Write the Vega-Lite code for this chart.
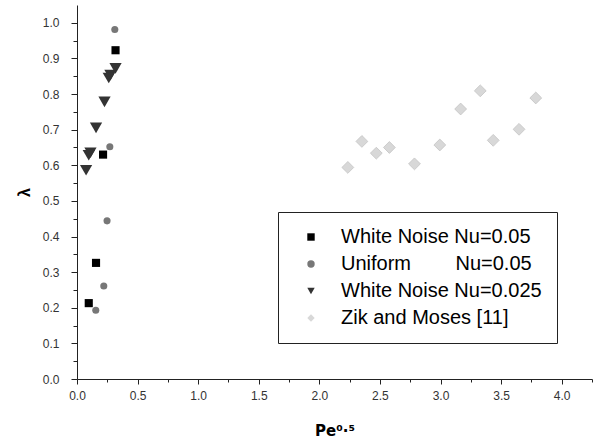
{
  "$schema": "https://vega.github.io/schema/vega-lite/v6.json",
  "autosize": "none",
  "width": 515,
  "height": 374,
  "padding": {"left": 77, "top": 5, "right": 6, "bottom": 68},
  "background": "white",
  "config": {
    "view": {"stroke": null},
    "font": "Liberation Sans",
    "axis": {"domainColor": "#222", "tickColor": "#222", "grid": false, "labelColor": "#333", "labelFontSize": 12, "labelFont": "Liberation Sans", "titleColor": "#000", "labelFlush": false, "labelOverlap": false}
  },
  "data": {"values": [
    {"series": "White Noise Nu=0.05", "x": 0.318, "y": 0.923},
    {"series": "White Noise Nu=0.05", "x": 0.215, "y": 0.630},
    {"series": "White Noise Nu=0.05", "x": 0.157, "y": 0.326},
    {"series": "White Noise Nu=0.05", "x": 0.097, "y": 0.213},
    {"series": "Uniform\u00a0\u00a0\u00a0\u00a0\u00a0\u00a0\u00a0\u00a0Nu=0.05", "x": 0.312, "y": 0.981},
    {"series": "Uniform\u00a0\u00a0\u00a0\u00a0\u00a0\u00a0\u00a0\u00a0Nu=0.05", "x": 0.271, "y": 0.652},
    {"series": "Uniform\u00a0\u00a0\u00a0\u00a0\u00a0\u00a0\u00a0\u00a0Nu=0.05", "x": 0.248, "y": 0.444},
    {"series": "Uniform\u00a0\u00a0\u00a0\u00a0\u00a0\u00a0\u00a0\u00a0Nu=0.05", "x": 0.221, "y": 0.261},
    {"series": "Uniform\u00a0\u00a0\u00a0\u00a0\u00a0\u00a0\u00a0\u00a0Nu=0.05", "x": 0.155, "y": 0.193},
    {"series": "White Noise Nu=0.025", "x": 0.318, "y": 0.872},
    {"series": "White Noise Nu=0.025", "x": 0.276, "y": 0.853},
    {"series": "White Noise Nu=0.025", "x": 0.262, "y": 0.845},
    {"series": "White Noise Nu=0.025", "x": 0.227, "y": 0.778},
    {"series": "White Noise Nu=0.025", "x": 0.157, "y": 0.705},
    {"series": "White Noise Nu=0.025", "x": 0.111, "y": 0.635},
    {"series": "White Noise Nu=0.025", "x": 0.097, "y": 0.628},
    {"series": "White Noise Nu=0.025", "x": 0.075, "y": 0.586},
    {"series": "Zik and Moses [11]", "x": 2.235, "y": 0.594},
    {"series": "Zik and Moses [11]", "x": 2.351, "y": 0.667},
    {"series": "Zik and Moses [11]", "x": 2.470, "y": 0.634},
    {"series": "Zik and Moses [11]", "x": 2.578, "y": 0.650},
    {"series": "Zik and Moses [11]", "x": 2.785, "y": 0.604},
    {"series": "Zik and Moses [11]", "x": 2.994, "y": 0.657},
    {"series": "Zik and Moses [11]", "x": 3.166, "y": 0.758},
    {"series": "Zik and Moses [11]", "x": 3.328, "y": 0.809},
    {"series": "Zik and Moses [11]", "x": 3.435, "y": 0.670},
    {"series": "Zik and Moses [11]", "x": 3.648, "y": 0.701},
    {"series": "Zik and Moses [11]", "x": 3.786, "y": 0.789}
  ]},
  "encoding": {
    "x": {
      "field": "x", "type": "quantitative",
      "scale": {"domain": [0, 4.25], "nice": false, "zero": false},
      "axis": {
        "title": "Pe\u2070\u00b7\u2075",
        "titleFont": "DejaVu Sans",
        "titleFontSize": 15, "titleFontWeight": "bold", "titlePadding": 22,
        "values": [0, 0.25, 0.5, 0.75, 1, 1.25, 1.5, 1.75, 2, 2.25, 2.5, 2.75, 3, 3.25, 3.5, 3.75, 4, 4.25],
        "labelExpr": "(round(datum.value*100) % 50 == 0) ? format(datum.value, '.1f') : ''",
        "tickSize": {"condition": {"test": "round(datum.value*100) % 50 == 0", "value": 5}, "value": 3},
        "labelPadding": 6
      }
    },
    "y": {
      "field": "y", "type": "quantitative",
      "scale": {"domain": [0, 1.05], "nice": false, "zero": false},
      "axis": {
        "title": "λ",
        "titleFontSize": 16, "titleFontWeight": "bold", "titlePadding": 10,
        "values": [0, 0.05, 0.1, 0.15, 0.2, 0.25, 0.3, 0.35, 0.4, 0.45, 0.5, 0.55, 0.6, 0.65, 0.7, 0.75, 0.8, 0.85, 0.9, 0.95, 1.0],
        "labelExpr": "(round(datum.value*100) % 10 == 0) ? format(datum.value, '.1f') : ''",
        "tickSize": {"condition": {"test": "round(datum.value*100) % 10 == 0", "value": 6}, "value": 4},
        "labelPadding": 12
      }
    },
    "shape": {
      "field": "series", "type": "nominal",
      "scale": {
        "domain": ["White Noise Nu=0.05", "Uniform\u00a0\u00a0\u00a0\u00a0\u00a0\u00a0\u00a0\u00a0Nu=0.05", "White Noise Nu=0.025", "Zik and Moses [11]"],
        "range": ["square", "circle", "triangle-down", "diamond"]
      },
      "legend": {
        "title": null, "orient": "none", "legendX": 201, "legendY": 207,
        "fillColor": "white", "strokeColor": "#222", "padding": 15,
        "labelFontSize": 20, "labelFont": "Liberation Sans", "labelColor": "#000",
        "rowPadding": 7, "symbolSize": 55, "symbolOffset": 8, "labelOffset": 20, "labelLimit": 400
      }
    },
    "color": {
      "field": "series", "type": "nominal",
      "scale": {
        "domain": ["White Noise Nu=0.05", "Uniform\u00a0\u00a0\u00a0\u00a0\u00a0\u00a0\u00a0\u00a0Nu=0.05", "White Noise Nu=0.025", "Zik and Moses [11]"],
        "range": ["#000000", "#777777", "#333333", "#d8d8d8"]
      }
    }
  },
  "layer": [
    {
      "transform": [{"filter": "datum.series == 'White Noise Nu=0.05'"}],
      "mark": {"type": "point", "filled": true, "opacity": 1, "size": 66}
    },
    {
      "transform": [{"filter": "indexof(datum.series, 'Uniform') == 0"}],
      "mark": {"type": "point", "filled": true, "opacity": 1, "size": 50}
    },
    {
      "transform": [{"filter": "datum.series == 'White Noise Nu=0.025'"}],
      "mark": {"type": "point", "filled": true, "opacity": 1, "size": 150}
    },
    {
      "transform": [{"filter": "datum.series == 'Zik and Moses [11]'"}],
      "mark": {"type": "point", "filled": true, "opacity": 1, "size": 140, "stroke": "#c4c4c4", "strokeWidth": 0.8}
    }
  ]
}
